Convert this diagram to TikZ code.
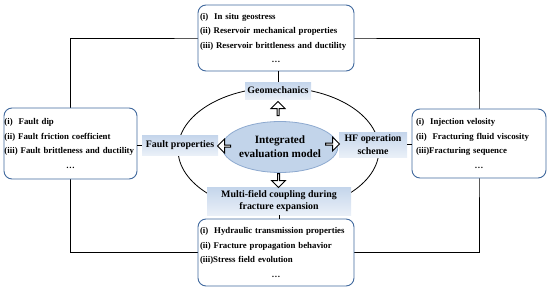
\documentclass[tikz,border=0pt]{standalone}
\usepackage{fontspec}
\setmainfont{Liberation Serif}
\usetikzlibrary{shapes.geometric,shapes.arrows,backgrounds}

\definecolor{boxline}{HTML}{41699E}
\definecolor{tagtop}{HTML}{C4D5EB}
\definecolor{tagbot}{HTML}{EAF0F8}
\definecolor{corefill}{HTML}{C2D4EA}
\definecolor{coreline}{HTML}{8DA9CF}

\hyphenpenalty=10000
\newcommand{\moredots}{\makebox[\hsize]{\dots}}

\begin{document}
\begin{tikzpicture}[
  x=1pt, y=-1pt,
  font=\bfseries\fontsize{8.8pt}{14.5pt}\selectfont,
  listbox/.style={
    rectangle,
    draw=boxline,
    line width=0.9pt,
    rounded corners=8pt,
    fill=white,
    align=left,
    inner xsep=2pt,
    inner ysep=2pt,
  },
  tag/.style={
    rectangle,
    top color=tagtop,
    bottom color=tagbot,
    inner sep=0pt,
    align=center,
    font=\bfseries\fontsize{9.9pt}{12.5pt}\selectfont,
  },
  core/.style={
    ellipse,
    draw=coreline,
    fill=corefill,
    line width=0.8pt,
    minimum width=91,
    minimum height=51,
    inner sep=0pt,
    align=center,
    font=\bfseries\fontsize{11.2pt}{14pt}\selectfont,
  },
  blk/.style={single arrow, draw=black, fill=white, line width=1pt,
    inner sep=0pt, minimum width=14, minimum height=14, single arrow head extend=3pt},
  link/.style={line width=0.8pt, draw=black},
]
  \useasboundingbox (0,0) rectangle (550,292);

  % --- centre: model and its four aspects ---
  \node[core] (model) at (280,147) {Integrated\\evaluation model};

  \node[tag, minimum width=66, minimum height=17] (geo) at (278,90.5) {Geomechanics};
  \node[tag, minimum width=76, minimum height=20] (fault) at (180,145) {Fault properties};
  \node[tag, minimum width=68, minimum height=25] (hf) at (373,144.5) {HF operation\\scheme};
  \node[tag, minimum width=144, minimum height=28] (multi) at (279,201) {Multi-field coupling during\\fracture expansion};

  \node[blk, rotate=90] (aup) at (278,109) {};
  \node[blk, minimum height=13, rotate=180] (aleft) at (224.5,146) {};
  \node[blk] (aright) at (332,144) {};
  \node[blk, rotate=-90] (adown) at (278.5,180) {};

  % --- outer lists ---
  \node[listbox, text width=152, minimum height=66] (tbox) at (276,38)
    {(i)~~In situ geostress\\(ii) Reservoir mechanical properties\\(iii) Reservoir brittleness and ductility\\\moredots};
  \node[listbox, text width=132, inner xsep=0.5pt, minimum height=71] (lbox) at (70.5,143.5)
    {(i)~~Fault dip\\(ii) Fault friction coefficient\\(iii) Fault brittleness and ductility\\\moredots};
  \node[listbox, text width=126, inner xsep=4pt, minimum height=69] (rbox) at (479,143.5)
    {(i)~~Injection velosity\\(ii)~~Fracturing fluid viscosity\\(iii)Fracturing sequence\\\moredots};
  \node[listbox, text width=152, minimum height=67] (bbox) at (276,252.5)
    {(i)~~Hydraulic transmission properties\\(ii) Fracture propagation behavior\\(iii)Stress field evolution\\\moredots};

  \draw[link] (geo.north) -- (geo.north |- tbox.south);
  \draw[link] (multi.south) -- (multi.south |- bbox.north);
  \draw[link] (fault.west) -- (fault.west -| lbox.east);
  \draw[link] (hf.east) -- (hf.east -| rbox.west);

  \begin{pgfonlayer}{background}
    \node[ellipse, draw, line width=0.8pt, minimum width=201, minimum height=124] (ring) at (278.5,149.5) {};
    \draw[link] (lbox.center) |- (tbox.center) -| (rbox.center) |- (bbox.center) -| (lbox.center);
  \end{pgfonlayer}
\end{tikzpicture}
\end{document}
